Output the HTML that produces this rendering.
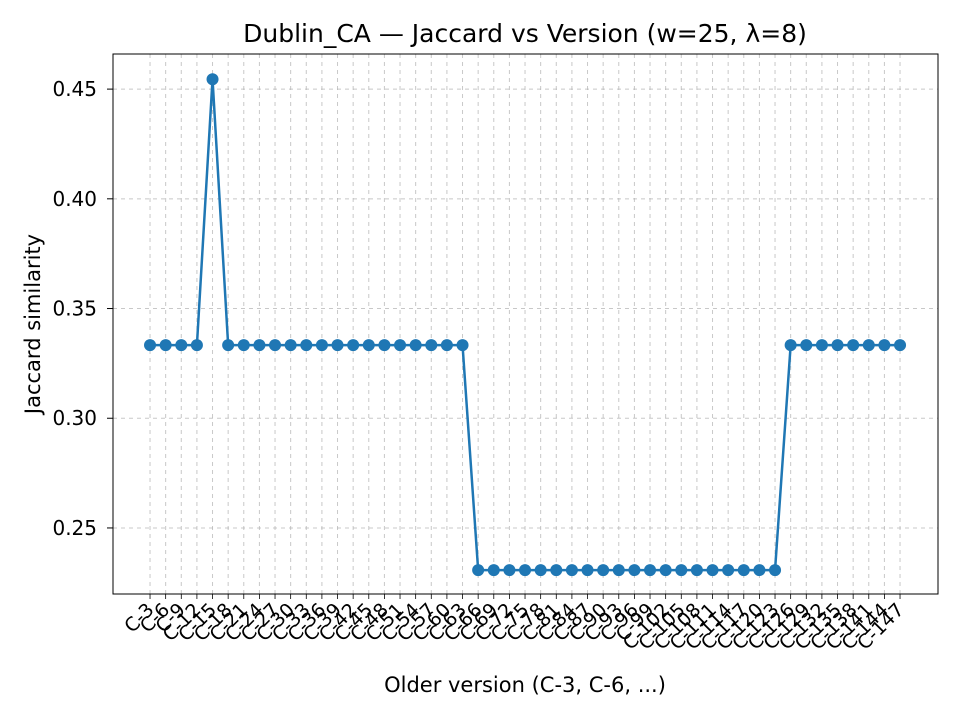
<!DOCTYPE html>
<html><head><meta charset="utf-8"><style>
body{margin:0;background:#fff;font-family:"Liberation Sans","DejaVu Sans",sans-serif;}
svg text{font-family:"DejaVu Sans","Liberation Sans",sans-serif;}
</style></head><body>
<svg id="chart" width="960" height="720" viewBox="0 0 960 720">
<rect width="960" height="720" fill="#fff"/>
<text x="525" y="42" text-anchor="middle" font-size="25" fill="#000">Dublin_CA — Jaccard vs Version (w=25, λ=8)</text>
<g id="grid"></g><g id="axes"></g><g id="series"></g>
<rect x="113" y="54" width="825" height="540" fill="none" stroke="#000" stroke-width="1"/>
<text x="525" y="692" text-anchor="middle" font-size="21">Older version (C-3, C-6, ...)</text>
<text transform="translate(40,324) rotate(-90)" text-anchor="middle" font-size="21">Jaccard similarity</text>
</svg>
<script>
const categories = [];
for (let k = 3; k <= 147; k += 3) categories.push('C-' + k);
const values = [0.3333,0.3333,0.3333,0.3333,0.4545,
0.3333,0.3333,0.3333,0.3333,0.3333,0.3333,0.3333,0.3333,0.3333,0.3333,0.3333,0.3333,0.3333,0.3333,0.3333,0.3333,
0.2308,0.2308,0.2308,0.2308,0.2308,0.2308,0.2308,0.2308,0.2308,0.2308,0.2308,0.2308,0.2308,0.2308,0.2308,0.2308,0.2308,0.2308,0.2308,0.2308,
0.3333,0.3333,0.3333,0.3333,0.3333,0.3333,0.3333,0.3333];
const yTicks = [0.25,0.30,0.35,0.40,0.45];
const yTickLabels = ['0.25','0.30','0.35','0.40','0.45'];

const NS='http://www.w3.org/2000/svg';
const L=113,R=938,T=54,B=594;
const xMin=-2.37,xMax=50.43,yMin=0.2199,yMax=0.466;
const xs=i=>L+(i-xMin)/(xMax-xMin)*(R-L);
const ys=v=>B-(v-yMin)/(yMax-yMin)*(B-T);
function mk(tag,attrs,parent){const e=document.createElementNS(NS,tag);for(const k in attrs)e.setAttribute(k,attrs[k]);parent.appendChild(e);return e;}
const grid=document.getElementById('grid'),axes=document.getElementById('axes'),series=document.getElementById('series');
categories.forEach((c,i)=>{
  const x=xs(i);
  const g=mk('line',{x1:x,x2:x,y1:T,y2:B,stroke:'#b0b0b0','stroke-width':1,'stroke-dasharray':'4,4','stroke-opacity':0.7},grid);
  
  
  const t=mk('line',{x1:x,x2:x,y1:B,y2:B+5,stroke:'#000','stroke-width':0.8},axes);
  
  
  const lb=mk('text',{x:x+5,y:B+17,'text-anchor':'end','font-size':19,transform:`rotate(-45 ${x+5} ${B+17})`},axes);
  lb.textContent=c;
  
  
});
yTicks.forEach((v,i)=>{
  const y=ys(v);
  const g=mk('line',{x1:L,x2:R,y1:y,y2:y,stroke:'#b0b0b0','stroke-width':1,'stroke-dasharray':'4,4','stroke-opacity':0.7},grid);
  
  
  const t=mk('line',{x1:L-6,x2:L,y1:y,y2:y,stroke:'#000','stroke-width':1},axes);
  
  
  const lb=mk('text',{x:L-16,y:y+7,'text-anchor':'end','font-size':20},axes);
  lb.textContent=yTickLabels[i];
  
  
});
const pts=values.map((v,i)=>xs(i)+','+ys(v)).join(' ');
const line=mk('polyline',{points:pts,fill:'none',stroke:'#1f77b4','stroke-width':2.5},series);


values.forEach((v,i)=>{
  const c=mk('circle',{cx:xs(i),cy:ys(v),r:6,fill:'#1f77b4'},series);
  
  
});
</script>
</body></html>
